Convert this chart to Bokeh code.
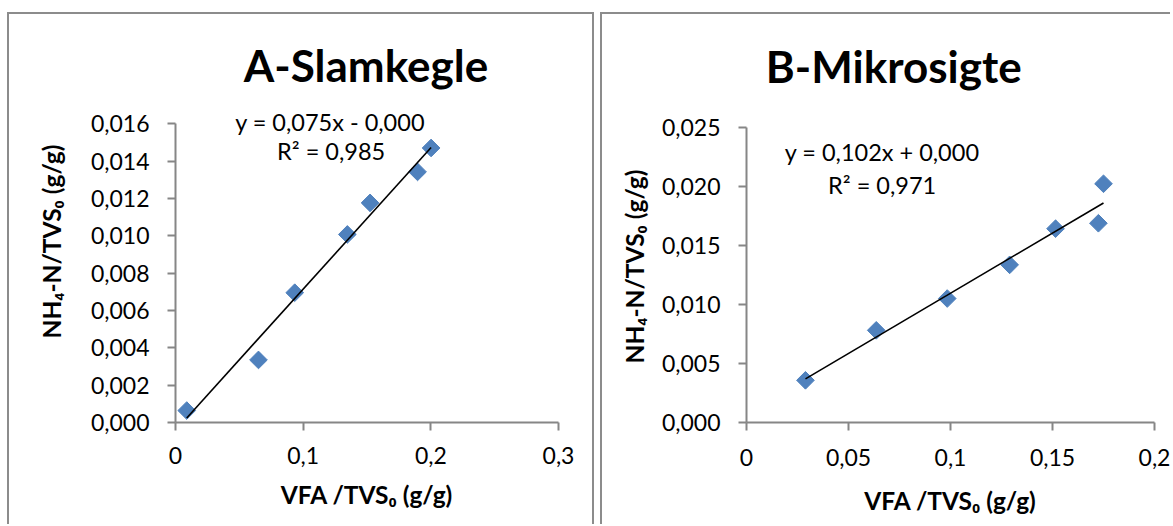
import numpy as np
from bokeh.plotting import figure
from bokeh.layouts import row
from bokeh.models import FixedTicker, Label, Title
from bokeh.embed import file_html
from bokeh.resources import INLINE

# ---------------- data ----------------
a_vfa = [0.0088, 0.0650, 0.0934, 0.1346, 0.1524, 0.1896, 0.2002]
a_nh4 = [0.00064, 0.00335, 0.00695, 0.01007, 0.01176, 0.01342, 0.01470]

b_vfa = [0.0289, 0.0636, 0.0984, 0.1290, 0.1515, 0.1725, 0.1750]
b_nh4 = [0.00357, 0.00780, 0.01049, 0.01334, 0.01640, 0.01686, 0.02020]

a_x_ticks = [0.0, 0.1, 0.2, 0.3]
a_x_labels = ["0", "0,1", "0,2", "0,3"]
a_y_ticks = [0.0, 0.002, 0.004, 0.006, 0.008, 0.01, 0.012, 0.014, 0.016]
a_y_labels = ["0,000", "0,002", "0,004", "0,006", "0,008", "0,010", "0,012", "0,014", "0,016"]

b_x_ticks = [0.0, 0.05, 0.1, 0.15, 0.2]
b_x_labels = ["0", "0,05", "0,1", "0,15", "0,2"]
b_y_ticks = [0.0, 0.005, 0.01, 0.015, 0.02, 0.025]
b_y_labels = ["0,000", "0,005", "0,010", "0,015", "0,020", "0,025"]

titles = ["A-Slamkegle", "B-Mikrosigte"]
a_eq = ["y = 0,075x - 0,000", "R² = 0,985"]
b_eq = ["y = 0,102x + 0,000", "R² = 0,971"]
x_title = "VFA /TVS₀ (g/g)"
y_title = "NH₄-N/TVS₀ (g/g)"

# ---------------- styling / layout ----------------
FONT = "Lato"
AXIS_COL = "#868686"
MARK_COL = "#4F81BD"
BORDER = "2px solid #8c8c8c"
EL_H = 512            # element height (incl. 2px top border)
CANVAS_H = EL_H - 2


def panel(xs, ys, xt, xl, yt, yl, title, eq, width, mbl, mbr, mbb, axis_top,
          title_px, eq_px, ylab_offset, ylab_standoff, xtick_standoff,
          xlab_standoff, styles):
    xmax, ymax = xt[-1], yt[-1]
    frame_w = width - 4 - mbl - mbr if "border-right" in styles else width - 2 - mbl - mbr
    frame_h = CANVAS_H - mbb
    axis_h = frame_h - axis_top
    # frame extends above the y axis so that title and equation fit inside it
    y_ext = ymax * frame_h / axis_h

    def to_x(px):   # px measured from frame left
        return px * xmax / frame_w

    def to_y(py):   # py measured from canvas top
        return (frame_h - py) * ymax / axis_h

    p = figure(width=width, height=EL_H, title=None,
               x_range=(xt[0], xmax), y_range=(yt[0], y_ext),
               output_backend="svg", toolbar_location=None,
               min_border_left=mbl, min_border_right=mbr,
               min_border_top=0, min_border_bottom=mbb,
               outline_line_color=None, background_fill_color="white",
               border_fill_color="white", styles=styles)
    p.xgrid.visible = False
    p.ygrid.visible = False

    for ax, ticks, labels in ((p.xaxis[0], xt, xl), (p.yaxis[0], yt, yl)):
        ax.ticker = FixedTicker(ticks=ticks)
        ax.major_label_overrides = {t: s for t, s in zip(ticks, labels)}
        ax.axis_line_color = AXIS_COL
        ax.axis_line_width = 2
        ax.major_tick_line_color = AXIS_COL
        ax.major_tick_line_width = 2
        ax.major_tick_in = 0
        ax.major_tick_out = 8
        ax.minor_tick_line_color = None
        ax.major_label_text_font = FONT
        ax.major_label_text_font_size = "23px"
        ax.major_label_text_color = "black"
        ax.major_label_standoff = 18
    p.yaxis[0].bounds = (yt[0], ymax)

    xa = p.xaxis[0]
    xa.major_label_standoff = xtick_standoff
    xa.axis_label = x_title
    xa.axis_label_text_font = FONT
    xa.axis_label_text_font_size = "24.5px"
    xa.axis_label_text_font_style = "bold"
    xa.axis_label_text_color = "black"
    xa.axis_label_standoff = xlab_standoff

    p.add_layout(Title(text=y_title, align="left", vertical_align="bottom",
                       offset=ylab_offset, standoff=ylab_standoff,
                       text_font=FONT, text_font_size="24.5px",
                       text_font_style="bold", text_color="black"), "left")

    p.add_layout(Label(x=to_x(title_px[0]), y=to_y(title_px[1]), text=title,
                       text_align="center", text_baseline="alphabetic",
                       text_font=FONT, text_font_size="44px",
                       text_font_style="bold", text_color="black"))

    p.scatter(xs, ys, marker="square", size=12.5, angle=np.pi / 4,
              fill_color=MARK_COL, line_color=MARK_COL)

    slope, icpt = np.polyfit(np.array(xs), np.array(ys), 1)
    lx = np.array([min(xs), max(xs)])
    p.line(lx, slope * lx + icpt, line_color="black", line_width=1.6)

    for txt, (ex, ey) in zip(eq, eq_px):
        p.add_layout(Label(x=to_x(ex), y=to_y(ey), text=txt, text_align="center",
                           text_baseline="alphabetic", text_font=FONT,
                           text_font_size="23.5px", text_color="black"))
    return p


p1 = panel(a_vfa, a_nh4, a_x_ticks, a_x_labels, a_y_ticks, a_y_labels,
           titles[0], a_eq, width=587, mbl=166, mbr=38, mbb=99, axis_top=110,
           title_px=(188.5, 51), eq_px=[(153, 108), (154, 138)],
           ylab_offset=84, ylab_standoff=44, xtick_standoff=16,
           xlab_standoff=13,
           styles={"border-left": BORDER, "border-top": BORDER,
                   "border-right": BORDER, "margin-top": "12px",
                   "margin-left": "7px"})

p2 = panel(b_vfa, b_nh4, b_x_ticks, b_x_labels, b_y_ticks, b_y_labels,
           titles[1], b_eq, width=570, mbl=144, mbr=18, mbb=104, axis_top=112,
           title_px=(146.5, 51), eq_px=[(135, 137), (135, 170)],
           ylab_offset=59, ylab_standoff=20, xtick_standoff=18,
           xlab_standoff=17,
           styles={"border-left": BORDER, "border-top": BORDER,
                   "margin-top": "12px"})

layout = row(p1, p2, spacing=6)
open("out.html", "w").write(file_html(layout, INLINE))
